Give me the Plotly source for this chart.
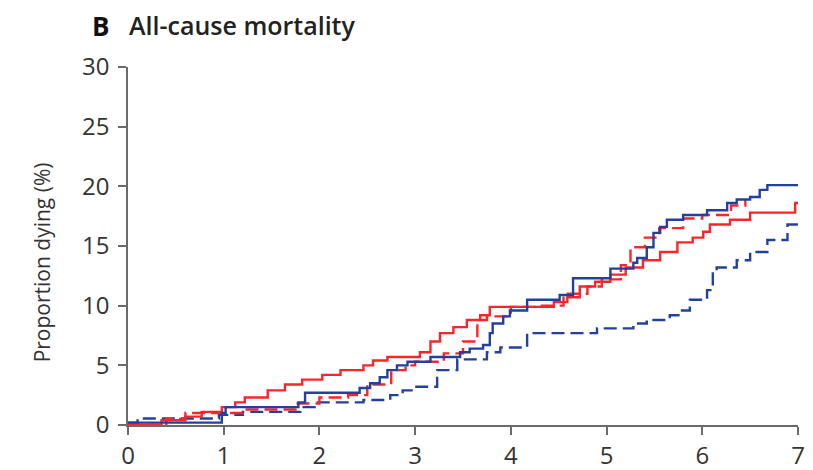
import plotly.graph_objects as go

# Red solid
rs_t = [0, 0.35, 0.6, 0.77, 0.98, 1.12, 1.22, 1.46, 1.64, 1.82, 2.03, 2.22, 2.46, 2.56, 2.71, 3.05, 3.16, 3.26, 3.40, 3.54, 3.68, 3.78, 4.45, 4.59, 4.72, 4.88, 5.04, 5.2, 5.38, 5.56, 5.74, 5.9, 6.01, 6.08, 6.29, 6.5, 6.97, 7.0]
rs_v = [0, 0.4, 0.7, 1.1, 1.5, 1.9, 2.3, 2.9, 3.4, 3.8, 4.2, 4.6, 5.0, 5.4, 5.7, 6.1, 7.0, 7.7, 8.2, 8.8, 9.2, 9.9, 10.3, 10.7, 11.6, 12.0, 12.6, 13.2, 13.8, 14.5, 15.3, 15.7, 16.2, 16.8, 17.2, 17.8, 18.6, 18.6]

# Red dashed
rd_t = [0, 0.4, 0.6, 1.2, 1.75, 2.0, 2.3, 2.5, 2.75, 2.9, 3.0, 3.3, 3.5, 3.65, 3.75, 4.0, 4.3, 4.55, 4.8, 4.95, 5.15, 5.25, 5.4, 5.55, 5.8, 6.0, 6.3, 6.45]
rd_v = [0, 0.5, 1.0, 1.3, 1.8, 2.3, 2.5, 3.4, 4.6, 5.0, 5.3, 6.0, 7.0, 8.8, 9.1, 9.9, 10.0, 11.0, 11.6, 12.2, 13.4, 14.9, 15.7, 16.5, 17.3, 17.6, 18.4, 18.9]

# Blue solid
bs_t = [0, 0.98, 1.02, 1.78, 1.85, 2.42, 2.53, 2.63, 2.71, 2.81, 2.92, 3.16, 3.47, 3.57, 3.71, 3.78, 3.81, 3.92, 3.99, 4.17, 4.51, 4.65, 5.04, 5.28, 5.32, 5.42, 5.49, 5.56, 5.63, 5.8, 6.05, 6.26, 6.36, 6.5, 6.6, 6.68, 7.0]
bs_v = [0.2, 1.0, 1.5, 1.9, 2.7, 3.1, 3.5, 4.0, 4.6, 5.0, 5.3, 5.7, 6.1, 6.4, 6.7, 7.7, 8.5, 9.1, 9.6, 10.5, 10.9, 12.3, 13.1, 13.6, 14.0, 14.9, 16.1, 16.6, 17.2, 17.6, 18.0, 18.6, 18.9, 19.1, 19.7, 20.1, 20.1]

# Blue dashed
bd_t = [0, 0.1, 0.95, 1.2, 1.8, 1.95, 2.46, 2.74, 2.87, 2.98, 3.23, 3.44, 3.75, 3.89, 4.17, 4.9, 5.28, 5.42, 5.66, 5.77, 5.87, 6.05, 6.11, 6.15, 6.36, 6.5, 6.68, 6.89, 7.0]
bd_v = [0.2, 0.55, 0.85, 1.1, 1.5, 1.9, 2.1, 2.5, 2.9, 3.2, 4.6, 5.5, 6.1, 6.5, 7.7, 8.1, 8.5, 8.8, 9.2, 9.6, 10.5, 11.3, 12.7, 13.2, 13.8, 14.5, 15.5, 16.8, 16.8]

x_ticks = [0, 1, 2, 3, 4, 5, 6, 7]
y_ticks = [0, 5, 10, 15, 20, 25, 30]

RED = "#f7262b"
BLUE = "#23409e"
W = 2.4

fig = go.Figure()
fig.add_trace(go.Scatter(x=bd_t, y=bd_v, mode="lines", line=dict(color=BLUE, width=W, dash="13px,6px", shape="hv")))
fig.add_trace(go.Scatter(x=rs_t, y=rs_v, mode="lines", line=dict(color=RED, width=W, shape="hv")))
fig.add_trace(go.Scatter(x=rd_t, y=rd_v, mode="lines", line=dict(color=RED, width=W, dash="13px,6px", shape="hv")))
fig.add_trace(go.Scatter(x=bs_t, y=bs_v, mode="lines", line=dict(color=BLUE, width=W, shape="hv")))

FONT = "Open Sans"
axis_common = dict(
    showgrid=False, zeroline=False, showline=True, linecolor="#6b6b6b", linewidth=1.5,
    ticks="outside", ticklen=8, tickwidth=1.5, tickcolor="#6b6b6b",
    tickfont=dict(family=FONT, size=24, color="#333333"),
    automargin=False,
)

# page body has an 8px margin, so the figure is sized to fit the 813x470 window
fig.update_layout(
    width=805, height=462,
    margin=dict(l=120, r=15, t=59, b=45),
    paper_bgcolor="white", plot_bgcolor="white",
    showlegend=False,
    xaxis=dict(range=[0, 7], tickvals=x_ticks, **axis_common),
    yaxis=dict(range=[0, 30], tickvals=y_ticks, ticklabelstandoff=4, **axis_common),
)
fig.add_annotation(xref="paper", yref="paper", x=-0.128, y=0.455, xanchor="center", yanchor="middle",
                   text="Proportion dying (%)", textangle=-90, showarrow=False,
                   font=dict(family=FONT, size=21, color="#333333"))
fig.add_annotation(xref="paper", yref="paper", x=-0.0567, y=1.0, yshift=41, xanchor="left", yanchor="middle",
                   text="<b>B</b>", showarrow=False, font=dict(family=FONT, size=26, color="#111111"))
fig.add_annotation(xref="paper", yref="paper", x=-0.0015, y=1.0, yshift=42, xanchor="left", yanchor="middle",
                   text="All-cause mortality", showarrow=False,
                   font=dict(family=FONT, size=25, color="#222222", weight=600))

fig.write_html("out.html")
